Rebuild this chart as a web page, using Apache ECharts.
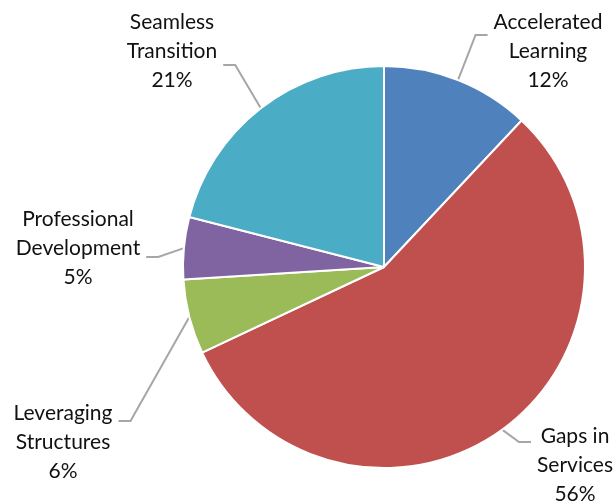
<!DOCTYPE html>
<html>
<head>
<meta charset="utf-8">
<script src="https://cdn.jsdelivr.net/npm/echarts@6/dist/echarts.min.js"></script>
<style>
html, body { margin: 0; padding: 0; background: #fff; }
#pie { width: 614px; height: 504px; }
</style>
</head>
<body>
<div id="pie"></div>
<script>
var names = ['Accelerated\nLearning', 'Gaps in\nServices', 'Leveraging\nStructures', 'Professional\nDevelopment', 'Seamless\nTransition'];
var values = [12, 56, 6, 5, 21];
var colors = ['#4F81BD', '#C0504D', '#9BBB59', '#8064A2', '#4BACC6'];
// label block centres and where the leader line meets the text (side, dy)
var labelPos = [[548, 51], [575, 465], [63, 442], [78, 248], [172, 51]];
var lineEnd = [[-1, -16], [-1, -23], [1, -21], [1, 9], [1, 14]];

var data = [];
for (var i = 0; i < names.length; i++) {
    data.push({ name: names[i], value: values[i], itemStyle: { color: colors[i] } });
}

var myChart = echarts.init(document.getElementById('pie'));
var option = {
    animation: false,
    series: [
        {
            type: 'pie',
            center: [384, 267],
            radius: 201,
            startAngle: 90,
            clockwise: true,
            data: data,
            itemStyle: {
                borderColor: '#fff',
                borderWidth: 2
            },
            label: {
                show: true,
                formatter: '{b}\n{c}%',
                fontFamily: 'Lato',
                fontSize: 21,
                lineHeight: 29,
                color: '#111',
                align: 'center'
            },
            labelLine: {
                show: true,
                length: 14,
                length2: 10,
                lineStyle: { color: '#a6a6a6', width: 2 }
            },
            labelLayout: function (params) {
                var k = params.dataIndex;
                var p = labelPos[k];
                var w = params.labelRect.width;
                var side = lineEnd[k][0];
                var ex = p[0] + side * (w / 2 + 6);
                var ey = p[1] + lineEnd[k][1];
                var start = params.labelLinePoints ? params.labelLinePoints[0] : [ex, ey];
                var pts = [start, [ex + side * 12, ey], [ex, ey]];
                return { x: p[0], y: p[1], align: 'center', verticalAlign: 'middle', labelLinePoints: pts };
            }
        }
    ]
};
myChart.setOption(option);
</script>
</body>
</html>
